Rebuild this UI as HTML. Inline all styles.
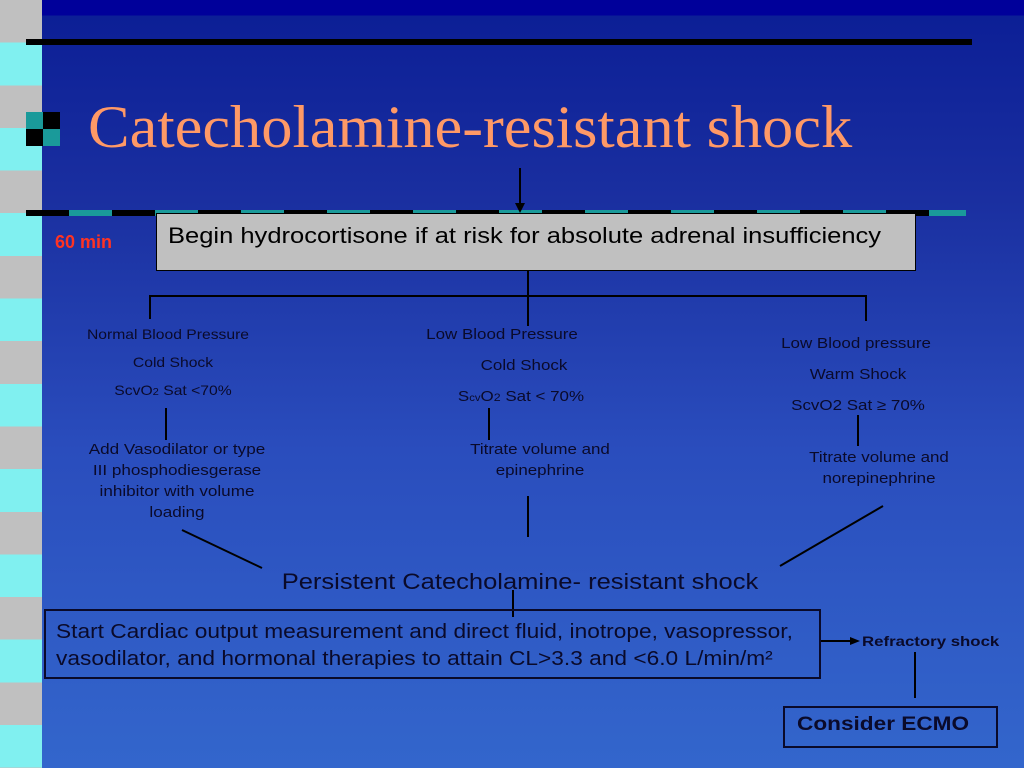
<!DOCTYPE html>
<html><head><style>
body{margin:0;width:1024px;height:768px;overflow:hidden;position:relative;font-family:"Liberation Sans",sans-serif;
background:linear-gradient(#00009a 0px,#00009a 15px,#0c1f96 16px,#1a2fa0 200px,#2a4dbd 450px,#3366cc 768px);}
.strip{position:absolute;left:0;top:0;width:42px;height:768px;background:repeating-linear-gradient(#c0c0c0 0,#c0c0c0 42.6px,#80f0f0 42.6px,#80f0f0 85.3px);}
.a{position:absolute;}
.t{position:absolute;color:#0a0a2a;text-align:center;white-space:nowrap;transform-origin:center top;}
</style></head><body>
<div class="strip"></div>
<div class="a" style="left:26px;top:39px;width:946px;height:6px;background:#000"></div>
<div class="a" style="left:26px;top:210px;width:940px;height:6px;background:repeating-linear-gradient(90deg,#000 0,#000 43px,#1a9a9a 43px,#1a9a9a 86px)"></div>
<div class="a" style="left:26px;top:112px;width:17px;height:17px;background:#1a9a9a"></div>
<div class="a" style="left:43px;top:112px;width:17px;height:17px;background:#000"></div>
<div class="a" style="left:26px;top:129px;width:17px;height:17px;background:#000"></div>
<div class="a" style="left:43px;top:129px;width:17px;height:17px;background:#1a9a9a"></div>
<div class="a" style="left:88px;top:92px;font-family:'Liberation Serif',serif;font-size:60px;color:#ff9966;white-space:nowrap;line-height:70px;transform:scaleX(1.04);transform-origin:left top">Catecholamine-resistant shock</div>
<div class="a" style="left:55px;top:232px;color:#ff3322;font-weight:bold;font-size:18px">60 min</div>
<div class="a" style="left:156px;top:213px;width:758px;height:56px;background:#c0c0c0;border:1px solid #000"></div>
<div class="a" style="left:168px;top:223px;font-size:22px;color:#000;white-space:nowrap;transform:scaleX(1.16);transform-origin:left top">Begin hydrocortisone if at risk for absolute adrenal insufficiency</div>
<svg class="a" style="left:0;top:0" width="1024" height="768">
<g stroke="#000" stroke-width="2" fill="none">
<line x1="520" y1="168" x2="520" y2="205"/>
<line x1="528" y1="271" x2="528" y2="296"/>
<line x1="149" y1="296" x2="867" y2="296"/>
<line x1="150" y1="296" x2="150" y2="319"/>
<line x1="528" y1="296" x2="528" y2="326"/>
<line x1="866" y1="296" x2="866" y2="321"/>
<line x1="166" y1="408" x2="166" y2="440"/>
<line x1="489" y1="408" x2="489" y2="440"/>
<line x1="858" y1="415" x2="858" y2="446"/>
<line x1="528" y1="496" x2="528" y2="537"/>
<line x1="182" y1="530" x2="262" y2="568"/>
<line x1="883" y1="506" x2="780" y2="566"/>
<line x1="513" y1="590" x2="513" y2="617"/>
<line x1="820" y1="641" x2="852" y2="641"/>
<line x1="915" y1="652" x2="915" y2="698"/>
</g>
<polygon points="520,213 515,203 525,203" fill="#000"/>
<polygon points="860,641 850,637 850,645" fill="#000"/>
</svg>
<div class="t" style="left:68px;width:200px;top:326px;font-size:14px;transform:scaleX(1.12)">Normal Blood Pressure</div>
<div class="t" style="left:68px;width:210px;top:354px;font-size:14px;transform:scaleX(1.12)">Cold Shock</div>
<div class="t" style="left:68px;width:210px;top:382px;font-size:14px;transform:scaleX(1.12)">ScvO<span style="font-size:10px">2</span> Sat &lt;70%</div>
<div class="t" style="left:402px;width:200px;top:326px;font-size:15px;transform:scaleX(1.13)">Low Blood Pressure</div>
<div class="t" style="left:424px;width:200px;top:357px;font-size:15px;transform:scaleX(1.13)">Cold Shock</div>
<div class="t" style="left:421px;width:200px;top:388px;font-size:15px;transform:scaleX(1.13)">S<span style="font-size:10px">cv</span>O<span style="font-size:11px">2</span> Sat &lt; 70%</div>
<div class="t" style="left:756px;width:200px;top:335px;font-size:15px;transform:scaleX(1.13)">Low Blood pressure</div>
<div class="t" style="left:758px;width:200px;top:366px;font-size:15px;transform:scaleX(1.13)">Warm Shock</div>
<div class="t" style="left:758px;width:200px;top:397px;font-size:15px;transform:scaleX(1.13)">ScvO2 Sat ≥ 70%</div>
<div class="t" style="left:67px;width:220px;top:439px;font-size:15px;line-height:21px;transform:scaleX(1.14)">Add Vasodilator or type<br>III phosphodiesgerase<br>inhibitor with volume<br>loading</div>
<div class="t" style="left:440px;width:200px;top:439px;font-size:15px;line-height:21px;transform:scaleX(1.13)">Titrate volume and<br>epinephrine</div>
<div class="t" style="left:779px;width:200px;top:447px;font-size:15px;line-height:21px;transform:scaleX(1.13)">Titrate volume and<br>norepinephrine</div>
<div class="t" style="left:220px;width:600px;top:569px;font-size:22px;transform:scaleX(1.16)">Persistent Catecholamine- resistant shock</div>
<div class="a" style="left:44px;top:609px;width:773px;height:66px;border:2px solid #0a0a2a"></div>
<div class="a" style="left:56px;top:619px;font-size:20px;line-height:27px;color:#0a0a2a;white-space:nowrap;transform:scaleX(1.135);transform-origin:left top">Start Cardiac output measurement and direct fluid, inotrope, vasopressor,<br>vasodilator, and hormonal therapies to attain CL&gt;3.3 and &lt;6.0 L/min/m²</div>
<div class="a" style="left:862px;top:633px;font-size:14px;font-weight:bold;color:#0a0a2a;white-space:nowrap;transform:scaleX(1.2);transform-origin:left top">Refractory shock</div>
<div class="a" style="left:783px;top:706px;width:211px;height:38px;border:2px solid #0a0a2a"></div>
<div class="a" style="left:797px;top:714px;font-size:19px;font-weight:bold;color:#0a0a2a;white-space:nowrap;transform:scaleX(1.19);transform-origin:left top">Consider ECMO</div>
</body></html>
